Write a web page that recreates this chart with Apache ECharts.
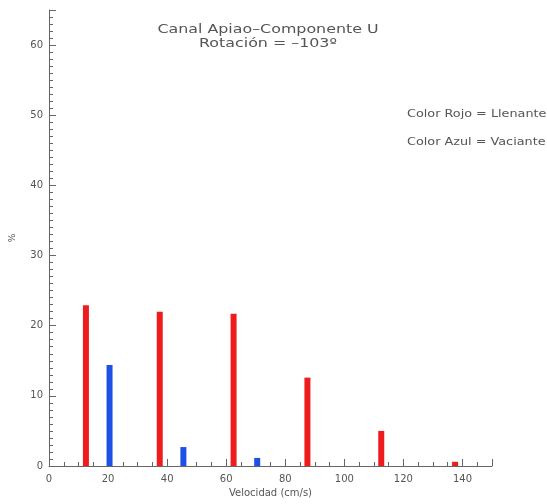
<!DOCTYPE html>
<html>
<head>
<meta charset="utf-8">
<script src="https://cdn.jsdelivr.net/npm/echarts@6/dist/echarts.min.js"></script>
<style>html,body{margin:0;padding:0;background:#fff;}#c{width:547px;height:504px;}</style>
</head>
<body>
<div id="c"></div>
<script>
var llenanteX = [12.5, 37.5, 62.5, 87.5, 112.5, 137.5];
var llenanteY = [22.9, 22.0, 21.7, 12.6, 5.0, 0.6];
var vacianteX = [20.5, 45.5, 70.5];
var vacianteY = [14.4, 2.7, 1.15];
var titleLines = ['Canal Apiao\u2013Componente U', 'Rotaci\u00f3n = \u2013103\u00ba'];
var legendTexts = ['Color Rojo = Llenante', 'Color Azul = Vaciante'];

var chart = echarts.init(document.getElementById('c'), null, {renderer: 'canvas'});
var font = 'DejaVu Sans';
function pairs(xs, ys) { return xs.map(function (x, i) { return [x, ys[i]]; }); }

function wideText(str, x, y, size, sx, align) {
  return {type: 'text', x: x, y: y, scaleX: sx, scaleY: 1, z: 10,
    style: {text: str, font: size + 'px ' + font, fill: '#555', align: align, verticalAlign: 'middle'}};
}

chart.setOption({
  animation: false,
  backgroundColor: '#fff',
  grid: {left: 45, right: 55, top: 10, bottom: 38},
  xAxis: {
    type: 'value', min: 0, max: 150, interval: 20,
    name: 'Velocidad (cm/s)', nameLocation: 'middle', nameGap: 22,
    nameTextStyle: {fontFamily: font, fontSize: 10, color: '#555'},
    axisLine: {show: true, lineStyle: {color: '#666', width: 1}},
    axisTick: {show: true, inside: true, length: 7, lineStyle: {color: '#666'}},
    minorTick: {show: true, splitNumber: 4, length: 4, lineStyle: {color: '#666'}},
    axisLabel: {fontFamily: font, fontSize: 10, color: '#555', margin: 8,
      formatter: function (v) { return v <= 140 ? String(v) : ''; }},
    splitLine: {show: false}
  },
  yAxis: {
    type: 'value', min: 0, max: 65, interval: 10,
    name: '%', nameLocation: 'middle', nameGap: 32, nameRotate: 90,
    nameTextStyle: {fontFamily: font, fontSize: 9, color: '#555'},
    axisLine: {show: true, lineStyle: {color: '#666', width: 1}},
    axisTick: {show: true, inside: true, length: 7, lineStyle: {color: '#666'}},
    minorTick: {show: true, splitNumber: 10, length: 4, lineStyle: {color: '#666'}},
    axisLabel: {fontFamily: font, fontSize: 10, color: '#555', margin: 6,
      formatter: function (v) { return v <= 60 ? String(v) : ''; }},
    splitLine: {show: false}
  },
  graphic: [
    wideText(titleLines[0], 268, 30, 13, 1.22, 'center'),
    wideText(titleLines[1], 268, 43.5, 13, 1.22, 'center'),
    wideText(legendTexts[0], 407, 114, 10, 1.28, 'left'),
    wideText(legendTexts[1], 407, 142, 10, 1.28, 'left')
  ],
  series: [
    {type: 'bar', name: 'Llenante', data: pairs(llenanteX, llenanteY), barWidth: 6, barGap: '-100%',
     itemStyle: {color: '#ee1c1c'}},
    {type: 'bar', name: 'Vaciante', data: pairs(vacianteX, vacianteY), barWidth: 6, barGap: '-100%',
     itemStyle: {color: '#1e50e6'}}
  ]
});
</script>
</body>
</html>
